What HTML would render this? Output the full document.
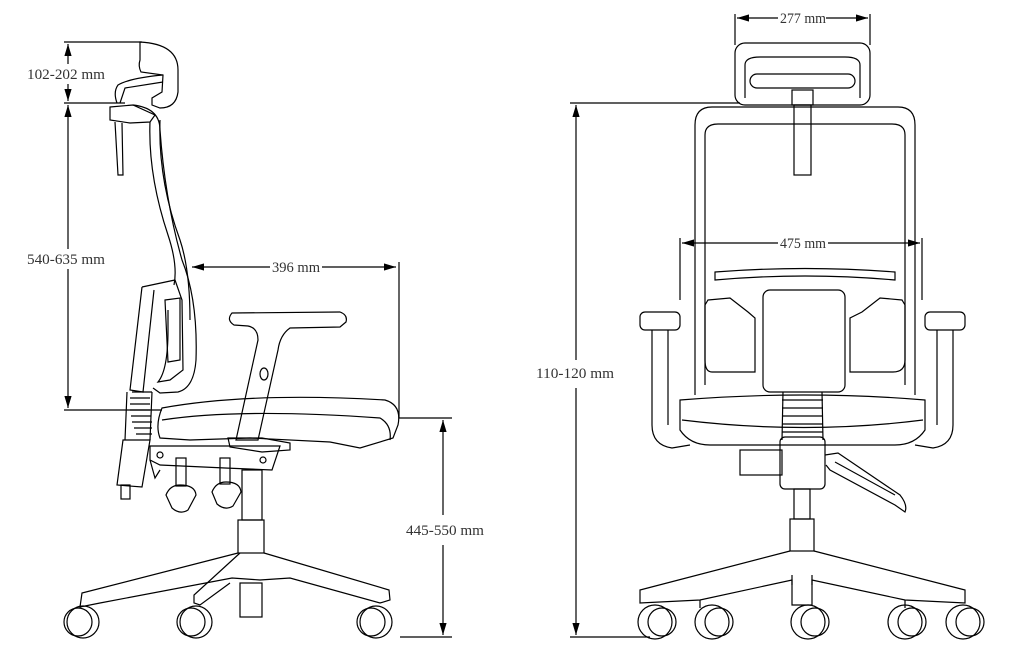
<!DOCTYPE html>
<html><head><meta charset="utf-8"><style>
html,body{margin:0;padding:0;background:#fff;}
svg{display:block}
text{font-family:"Liberation Serif",serif;font-size:15px;fill:#333}
</style></head><body>
<svg width="1024" height="668" viewBox="0 0 1024 668" xmlns="http://www.w3.org/2000/svg">
<defs><marker id="a" markerWidth="10" markerHeight="6" refX="10" refY="3" orient="auto-start-reverse"><path d="M0,0 L10,3 L0,6 z" fill="#000"/></marker></defs>
<g stroke="#000" stroke-width="1.2" fill="none">
<!-- LEFT dims -->
<line x1="64" y1="42" x2="142" y2="42"/>
<line x1="64" y1="103" x2="125" y2="103"/>
<line x1="64" y1="410" x2="162" y2="410"/>
<line x1="68" y1="44" x2="68" y2="101" marker-start="url(#a)" marker-end="url(#a)"/>
<line x1="68" y1="105" x2="68" y2="408" marker-start="url(#a)" marker-end="url(#a)"/>
<line x1="192" y1="267" x2="270" y2="267" marker-start="url(#a)"/>
<line x1="322" y1="267" x2="396" y2="267" marker-end="url(#a)"/>
<line x1="399" y1="262" x2="399" y2="418"/>
<line x1="399" y1="418" x2="452" y2="418"/>
<line x1="443" y1="420" x2="443" y2="515" marker-start="url(#a)"/>
<line x1="443" y1="545" x2="443" y2="635" marker-end="url(#a)"/>
<line x1="400" y1="637" x2="452" y2="637"/>
<!-- left headrest -->
<path d="M140,42 Q178,44 178,70 L178,92 Q176,108 160,108 L152,105 L152,98 L162,92 L163,75 L141,72 Q138,66 140,60 Z"/>
<path d="M163,75 Q130,78 118,85 Q113,92 117,103 M163,82 L125,88 L120,103"/>
<path d="M110,107 L133,105 L155,115 L150,122 L130,123 L110,120 Z"/>
<path d="M115,122 L118,175 L123,175 L122,123"/>
<path d="M133,105 Q160,108 160,130 Q165,200 182,260 Q198,300 196,360 Q194,388 178,392 L160,393 L153,388"/>
<path d="M150,122 Q148,175 168,235 Q178,265 174,285"/>
<path d="M160,120 Q158,180 180,240 Q190,270 190,320"/>
<path d="M142,287 L175,280 L182,300 L183,370 L170,380 L158,382 Q168,370 168,330 L168,310"/>
<path d="M142,287 L130,390 L143,392 L154,290"/>
<path d="M165,300 L180,298 L180,360 L168,362 Z"/>
<path d="M132,392 L152,392 M130,398 L150,398 M130,404 L150,404 M130,410 L150,410 M131,416 L151,416 M132,422 L152,422 M134,428 L152,428 M136,434 L152,434"/>
<path d="M127,392 L125,440 M152,392 L150,440"/>
<path d="M123,440 L150,440 L142,487 L117,485 Z"/>
<rect x="121" y="485" width="9" height="14"/>
<path d="M162,408 Q250,392 385,400 Q402,405 398,425 L393,438 L360,448 L330,442 L250,438 L190,440 L160,438 Q155,425 162,408 Z"/>
<path d="M162,420 Q240,408 380,418 Q392,425 390,440"/>
<path d="M232,313 L340,312 Q348,315 346,322 L340,327 L290,328 Q280,335 278,350 L258,440 L236,440 L258,340 Q258,328 248,326 L234,325 Q226,320 232,313 Z"/>
<ellipse cx="264" cy="374" rx="4" ry="6"/>
<path d="M228,438 L262,438 L290,443 L290,450 L262,452 L230,447 Z"/>
<path d="M150,446 L280,446 L272,470 L225,468 L160,465 L150,460 Z"/>
<circle cx="160" cy="455" r="3"/><circle cx="263" cy="460" r="3"/>
<path d="M150,460 L155,478 L160,470"/>
<rect x="176" y="458" width="10" height="28"/>
<path d="M166,495 Q170,485 180,485 Q195,485 196,495 L188,510 Q180,515 172,508 Z"/>
<rect x="220" y="458" width="10" height="26"/>
<path d="M212,492 Q216,482 226,482 Q240,482 241,492 L233,506 Q225,511 217,504 Z"/>
<rect x="242" y="470" width="20" height="50"/>
<rect x="238" y="520" width="26" height="33"/>
<rect x="240" y="583" width="22" height="34"/>
<path d="M238,553 L82,593 L80,607 L100,603 L232,578 L260,580 L290,578 L380,603 L390,600 L389,590 L264,553"/>
<path d="M240,553 L194,595 L194,603 L200,605 L230,583"/>
<circle cx="83" cy="622" r="16"/><circle cx="78" cy="622" r="14"/>
<circle cx="196" cy="622" r="16"/><circle cx="191" cy="622" r="14"/>
<circle cx="376" cy="622" r="16"/><circle cx="371" cy="622" r="14"/>

<!-- RIGHT dims -->
<line x1="735" y1="14" x2="735" y2="45"/>
<line x1="870" y1="14" x2="870" y2="45"/>
<line x1="737" y1="18" x2="778" y2="18" marker-start="url(#a)"/>
<line x1="826" y1="18" x2="868" y2="18" marker-end="url(#a)"/>
<line x1="682" y1="243" x2="778" y2="243" marker-start="url(#a)"/>
<line x1="828" y1="243" x2="920" y2="243" marker-end="url(#a)"/>
<line x1="680" y1="238" x2="680" y2="300"/>
<line x1="922" y1="238" x2="922" y2="300"/>
<line x1="570" y1="103" x2="740" y2="103"/>
<line x1="576" y1="105" x2="576" y2="360" marker-start="url(#a)"/>
<line x1="576" y1="388" x2="576" y2="635" marker-end="url(#a)"/>
<line x1="570" y1="637" x2="650" y2="637"/>
<rect x="735" y="43" width="135" height="62" rx="10"/>
<path d="M745,98 L745,65 Q745,57 760,57 L845,57 Q860,57 860,65 L860,98"/>
<rect x="750" y="74" width="105" height="14" rx="7"/>
<rect x="792" y="90" width="21" height="15"/>
<rect x="794" y="105" width="17" height="70"/>
<path d="M695,395 L695,125 Q695,107 712,107 L898,107 Q915,107 915,125 L915,395"/>
<path d="M705,385 L705,135 Q705,124 718,124 L892,124 Q905,124 905,135 L905,385"/>
<path d="M715,280 Q805,272 895,280 L895,272 Q805,265 715,272 Z"/>
<path d="M708,300 L730,298 L748,312 L755,318 L755,372 L712,372 Q705,372 705,360 L705,305 Z"/>
<path d="M902,300 L880,298 L862,312 L850,318 L850,372 L893,372 Q905,372 905,360 L905,305 Z"/>
<rect x="763" y="290" width="82" height="102" rx="7"/>
<rect x="640" y="312" width="40" height="18" rx="5"/>
<rect x="925" y="312" width="40" height="18" rx="5"/>
<path d="M652,330 L652,425 Q652,445 672,448 L690,445 M668,330 L668,425"/>
<path d="M953,330 L953,425 Q953,445 933,448 L915,445 M937,330 L937,425"/>
<path d="M680,400 Q805,390 925,400 L925,430 Q915,445 895,445 L710,445 Q690,445 680,430 Z"/>
<path d="M682,420 Q805,435 923,420"/>
<path d="M783,392 L782,440 M822,392 L823,440"/>
<path d="M782,400 L823,400 M782,408 L823,408 M782,416 L823,416 M782,424 L823,424 M782,432 L823,432"/>
<rect x="740" y="450" width="42" height="25"/>
<rect x="780" y="437" width="45" height="52" rx="5"/>
<path d="M825,455 L838,453 L900,495 Q908,505 905,512 L895,505 L830,470 L826,465"/>
<path d="M835,462 L895,495"/>
<rect x="794" y="489" width="16" height="30"/>
<rect x="790" y="519" width="24" height="32"/>
<path d="M790,551 L640,590 L640,603 L700,600 L792,580 L792,605 L812,605 L812,580 L905,600 L965,603 L965,590 L814,551"/>
<path d="M700,600 L700,608 M905,600 L905,608 M792,575 L792,585 M812,575 L812,585"/>
<circle cx="655" cy="622" r="17"/><circle cx="662" cy="622" r="14"/>
<circle cx="712" cy="622" r="17"/><circle cx="719" cy="622" r="14"/>
<circle cx="808" cy="622" r="17"/><circle cx="815" cy="622" r="14"/>
<circle cx="905" cy="622" r="17"/><circle cx="912" cy="622" r="14"/>
<circle cx="963" cy="622" r="17"/><circle cx="970" cy="622" r="14"/>
</g>
<g fill="#fff">
<rect x="27" y="64" width="78" height="20"/>
<rect x="27" y="249" width="78" height="20"/>
<rect x="404" y="520" width="82" height="20"/>
<rect x="534" y="363" width="82" height="20"/>
</g>
<g>
<text x="27" y="79" textLength="78" lengthAdjust="spacingAndGlyphs">102-202 mm</text>
<text x="27" y="264" textLength="78" lengthAdjust="spacingAndGlyphs">540-635 mm</text>
<text x="272" y="272" textLength="48" lengthAdjust="spacingAndGlyphs">396 mm</text>
<text x="406" y="535" textLength="78" lengthAdjust="spacingAndGlyphs">445-550 mm</text>
<text x="780" y="23" textLength="46" lengthAdjust="spacingAndGlyphs">277 mm</text>
<text x="780" y="248" textLength="46" lengthAdjust="spacingAndGlyphs">475 mm</text>
<text x="536" y="378" textLength="78" lengthAdjust="spacingAndGlyphs">110-120 mm</text>
</g>
</svg>
</body></html>
